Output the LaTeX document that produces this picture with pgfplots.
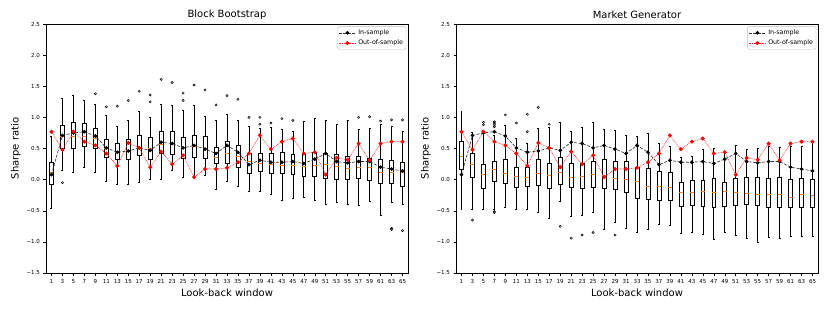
\documentclass[border=0pt]{standalone}
\usepackage{fontspec}
\setmainfont{DejaVu Sans}
\usepackage{pgfplots}
\pgfplotsset{compat=1.18}
\usepackage{pgfplotstable}
\usepgfplotslibrary{statistics}
\definecolor{mplorange}{HTML}{FF7F0E}

\pgfplotstableread{
w ins oos
1 0.08 0.77
3 0.71 0.48
5 0.75 0.77
7 0.77 0.61
9 0.70 0.55
11 0.51 0.42
13 0.44 0.22
15 0.46 0.59
17 0.51 0.51
19 0.47 0.20
21 0.60 0.45
23 0.58 0.25
25 0.51 0.39
27 0.55 0.04
29 0.49 0.17
31 0.42 0.17
33 0.55 0.19
35 0.44 0.28
37 0.24 0.42
39 0.31 0.71
41 0.28 0.49
43 0.28 0.61
45 0.29 0.66
47 0.26 0.42
49 0.33 0.44
51 0.42 0.08
53 0.29 0.35
55 0.27 0.32
57 0.29 0.58
59 0.29 0.31
61 0.20 0.58
63 0.17 0.61
65 0.14 0.61
}\lines

% \bx{pos}{lower whisker}{q1}{median}{q3}{upper whisker}
\newcommand{\bx}[6]{\addplot[forget plot, black, line width=0.6pt,
  boxplot prepared={draw direction=y, draw position=#1, lower whisker=#2, lower quartile=#3,
  median=#4, upper quartile=#5, upper whisker=#6}] coordinates {};}
% \bxo{...}{outliers as v\\ v\\}
\newcommand{\bxo}[7]{\addplot[forget plot, black, line width=0.6pt,
  mark=o, mark size=1.1pt, mark options={line width=0.5pt},
  boxplot prepared={draw direction=y, draw position=#1, lower whisker=#2, lower quartile=#3,
  median=#4, upper quartile=#5, upper whisker=#6}]
  table[row sep=\\, y index=0] {v\\ #7};}

\pgfplotsset{
  sharpe/.style={
    width=362pt, height=249pt, scale only axis,
    xmin=0, xmax=66, ymin=-1.5, ymax=2.5,
    xtick={1,3,...,65}, ytick={-1.5,-1,...,2.5},
    yticklabels={−1.5,−1.0,−0.5,0.0,0.5,1.0,1.5,2.0,2.5},
    ticklabel style={font=\fontsize{5.5}{6}\selectfont},
    /pgf/number format/assume math mode=true,
    tick align=outside, major tick length=2.5pt,
    tick style={black, line width=0.5pt},
    tick pos=left,
    axis line style={black, line width=0.6pt},
    xlabel={Look-back window}, ylabel={Sharpe ratio},
    label style={font=\fontsize{10}{12}\selectfont},
    xlabel style={at={(axis description cs:0.5,-0.08)}, anchor=center},
    ylabel style={at={(axis description cs:-0.083,0.5)}, anchor=center},
    every axis title shift=0pt,
    title style={font=\fontsize{10}{12}\selectfont, at={(axis description cs:0.5,1.036)}, anchor=center, yshift=0pt},
    legend style={at={(rel axis cs:0.995,0.99)}, anchor=north east,
      font=\fontsize{6.3}{7.5}\selectfont, draw=black!25, rounded corners=1.5pt,
      inner sep=1pt, cells={anchor=west}},
    boxplot/box extend=0.72,
    boxplot/whisker extend=0.36,
    boxplot/every median/.style={draw=mplorange, line width=0.6pt},
  },
  insample/.style={black!80, dash pattern=on 3pt off 1.5pt, line width=0.65pt,
    mark=*, mark size=1.5pt, mark options={solid, fill=black, draw=black}},
  oosample/.style={red!85!white, dash pattern=on 0.8pt off 0.8pt, line width=0.6pt,
    mark=*, mark size=1.7pt, mark options={solid, fill=red, draw=red}},
}

\begin{document}
\begin{tikzpicture}
\useasboundingbox (0,0) rectangle (830pt,311pt);
\begin{axis}[sharpe, at={(46pt,38pt)}, anchor=south west, title={Block Bootstrap}]
\bx{1}{-0.46}{-0.08}{0.11}{0.28}{0.69}
\bxo{3}{0.15}{0.50}{0.70}{0.87}{1.30}{-0.05\\}
\bx{5}{0.12}{0.50}{0.70}{0.92}{1.36}
\bx{7}{0.20}{0.54}{0.69}{0.90}{1.27}
\bxo{9}{0.12}{0.51}{0.67}{0.82}{1.21}{1.38\\}
\bxo{11}{-0.02}{0.36}{0.50}{0.64}{1.03}{1.17\\}
\bxo{13}{-0.08}{0.32}{0.44}{0.59}{0.85}{1.18\\}
\bxo{15}{-0.08}{0.32}{0.47}{0.64}{0.96}{1.27\\}
\bxo{17}{-0.05}{0.39}{0.52}{0.71}{1.09}{1.42\\}
\bxo{19}{0.01}{0.32}{0.50}{0.68}{1.00}{1.36\\ 1.25\\}
\bxo{21}{0.00}{0.42}{0.57}{0.77}{1.21}{1.61\\}
\bxo{23}{0.15}{0.40}{0.58}{0.77}{1.19}{1.56\\}
\bxo{25}{0.04}{0.34}{0.52}{0.68}{1.11}{1.39\\ 1.27\\}
\bxo{27}{0.03}{0.36}{0.54}{0.71}{1.19}{1.52\\}
\bxo{29}{0.07}{0.34}{0.51}{0.70}{1.02}{1.44\\}
\bxo{31}{-0.15}{0.26}{0.36}{0.52}{0.96}{1.20\\}
\bxo{33}{-0.02}{0.26}{0.42}{0.61}{1.05}{1.35\\}
\bxo{35}{-0.11}{0.20}{0.37}{0.55}{0.96}{1.29\\}
\bxo{37}{-0.18}{0.10}{0.30}{0.42}{0.85}{1.00\\}
\bxo{39}{-0.19}{0.14}{0.26}{0.42}{0.82}{1.00\\ 0.89\\}
\bxo{41}{-0.24}{0.10}{0.24}{0.42}{0.84}{0.91\\}
\bxo{43}{-0.33}{0.10}{0.23}{0.44}{0.81}{0.98\\}
\bxo{45}{-0.30}{0.09}{0.23}{0.41}{0.78}{0.95\\}
\bx{47}{-0.29}{0.05}{0.22}{0.41}{0.93}
\bx{49}{-0.33}{0.05}{0.23}{0.44}{0.98}
\bx{51}{-0.40}{0.02}{0.24}{0.42}{0.96}
\bx{53}{-0.36}{0.00}{0.22}{0.40}{0.89}
\bx{55}{-0.39}{0.00}{0.18}{0.38}{0.95}
\bxo{57}{-0.42}{0.02}{0.20}{0.37}{0.81}{1.00\\}
\bxo{59}{-0.35}{-0.01}{0.20}{0.35}{0.83}{1.01\\}
\bxo{61}{-0.57}{-0.06}{0.12}{0.33}{0.89}{0.94\\}
\bxo{63}{-0.37}{-0.06}{0.12}{0.31}{0.85}{0.96\\ -0.78\\ -0.80\\}
\bxo{65}{-0.39}{-0.11}{0.12}{0.28}{0.78}{0.96\\ -0.82\\}
\addplot[insample] table[x=w, y=ins] {\lines};
\addlegendentry{In-sample}
\addplot[oosample] table[x=w, y=oos] {\lines};
\addlegendentry{Out-of-sample}
\end{axis}

\begin{axis}[sharpe, at={(456pt,38pt)}, anchor=south west, title={Market Generator}]
\bx{1}{-0.48}{0.16}{0.37}{0.62}{1.10}
\bxo{3}{-0.47}{0.03}{0.24}{0.42}{0.76}{-0.65\\}
\bxo{5}{-0.48}{-0.14}{0.08}{0.24}{0.75}{0.92\\ 0.88\\}
\bxo{7}{-0.47}{-0.02}{0.16}{0.30}{0.71}{0.93\\ 0.91\\ 0.88\\ 0.85\\ -0.51\\ -0.53\\}
\bxo{9}{-0.45}{-0.06}{0.10}{0.32}{0.88}{1.04\\}
\bxo{11}{-0.48}{-0.12}{0.05}{0.20}{0.67}{0.91\\}
\bxo{13}{-0.48}{-0.11}{0.03}{0.19}{0.58}{1.05\\ 0.77\\}
\bxo{15}{-0.52}{-0.09}{0.10}{0.32}{0.82}{1.16\\}
\bxo{17}{-0.62}{-0.14}{0.07}{0.26}{0.84}{0.89\\}
\bxo{19}{-0.35}{-0.08}{0.12}{0.36}{0.92}{-0.75\\}
\bxo{21}{-0.59}{-0.12}{0.03}{0.26}{0.77}{-0.94\\}
\bxo{23}{-0.57}{-0.14}{0.06}{0.27}{0.84}{-0.89\\}
\bxo{25}{-0.53}{-0.13}{0.08}{0.29}{0.92}{-0.85\\}
\bx{27}{-0.79}{-0.14}{0.07}{0.33}{0.81}
\bxo{29}{-0.68}{-0.16}{0.02}{0.29}{0.80}{-0.89\\}
\bx{31}{-0.78}{-0.20}{0.00}{0.30}{0.71}
\bx{33}{-0.85}{-0.30}{-0.03}{0.20}{0.69}
\bx{35}{-0.80}{-0.32}{-0.10}{0.18}{0.74}
\bx{37}{-0.71}{-0.33}{-0.11}{0.14}{0.59}
\bx{39}{-0.74}{-0.33}{-0.12}{0.12}{0.54}
\bx{41}{-0.86}{-0.43}{-0.21}{-0.05}{0.36}
\bx{43}{-0.85}{-0.41}{-0.20}{-0.01}{0.37}
\bx{45}{-0.88}{-0.43}{-0.18}{-0.01}{0.48}
\bx{47}{-0.96}{-0.44}{-0.21}{0.02}{0.50}
\bx{49}{-0.85}{-0.43}{-0.19}{-0.04}{0.45}
\bx{51}{-0.89}{-0.41}{-0.20}{0.02}{0.55}
\bx{53}{-0.94}{-0.39}{-0.22}{0.03}{0.48}
\bx{55}{-1.01}{-0.41}{-0.24}{0.03}{0.50}
\bx{57}{-0.92}{-0.45}{-0.24}{0.02}{0.53}
\bx{59}{-0.94}{-0.45}{-0.24}{0.03}{0.52}
\bx{61}{-0.91}{-0.45}{-0.29}{0.00}{0.53}
\bx{63}{-0.91}{-0.45}{-0.24}{0.02}{0.54}
\bx{65}{-0.91}{-0.45}{-0.25}{0.00}{0.62}
\addplot[insample] table[x=w, y=ins] {\lines};
\addlegendentry{In-sample}
\addplot[oosample] table[x=w, y=oos] {\lines};
\addlegendentry{Out-of-sample}
\end{axis}
\end{tikzpicture}
\end{document}
